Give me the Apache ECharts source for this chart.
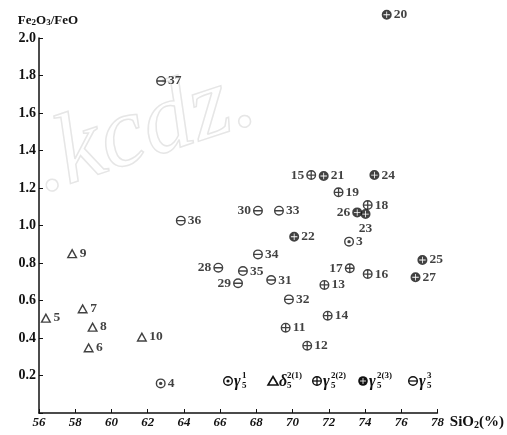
<!DOCTYPE html>
<html>
<head>
<meta charset="utf-8">
<script src="https://cdn.jsdelivr.net/npm/echarts@6/dist/echarts.min.js"></script>
<style>html,body{margin:0;padding:0;background:#fff}#c{width:507px;height:435px}</style>
</head>
<body>
<div id="c"></div>
<script>
// ---- data: [SiO2 %, Fe2O3/FeO, sample no.] ----
const gamma51 = [[73.12, 0.914, 3], [62.72, 0.158, 4]];
const delta521 = [[56.38, 0.508, 5], [58.74, 0.350, 6], [58.41, 0.558, 7], [58.96, 0.460, 8], [57.83, 0.852, 9], [61.68, 0.407, 10]];
const gamma522 = [[69.62, 0.455, 11], [70.81, 0.359, 12], [71.76, 0.683, 13], [71.94, 0.519, 14], [71.03, 1.269, 15], [74.15, 0.741, 16], [73.16, 0.772, 17], [74.15, 1.109, 18], [72.54, 1.177, 19]];
const gamma523 = [[75.20, 2.124, 20], [71.72, 1.264, 21], [70.09, 0.940, 22], [74.03, 1.061, 23], [74.52, 1.269, 24], [77.17, 0.816, 25], [73.57, 1.070, 26], [76.79, 0.724, 27]];
const gamma53 = [[65.90, 0.775, 28], [66.99, 0.692, 29], [68.09, 1.079, 30], [68.82, 0.709, 31], [69.80, 0.606, 32], [69.25, 1.079, 33], [68.09, 0.846, 34], [67.26, 0.757, 35], [63.83, 1.026, 36], [62.74, 1.771, 37]];
const xTicks = [56, 58, 60, 62, 64, 66, 68, 70, 72, 74, 76, 78];
const yTicks = [0.2, 0.4, 0.6, 0.8, 1.0, 1.2, 1.4, 1.6, 1.8, 2.0];
const legendNames = [['γ', '1', '5'], ['δ', '2(1)', '5'], ['γ', '2(2)', '5'], ['γ', '2(3)', '5'], ['γ', '3', '5']];

// ---- styling ----
const INK = '#111';
const FONT = '"Liberation Serif", "DejaVu Serif", serif';
const ring = 'M0,10 A10,10 0 1,1 20,10 A10,10 0 1,1 0,10 Z M2.8,10 A7.2,7.2 0 1,0 17.2,10 A7.2,7.2 0 1,0 2.8,10 Z ';
const disc = 'M0,10 A10,10 0 1,1 20,10 A10,10 0 1,1 0,10 Z ';
const P_DOT = ring + 'M6.6,10 A3.4,3.4 0 1,1 13.4,10 A3.4,3.4 0 1,1 6.6,10 Z';
const P_PLUS = ring + 'M8.7,2 L11.3,2 L11.3,8.7 L18,8.7 L18,11.3 L11.3,11.3 L11.3,18 L8.7,18 L8.7,11.3 L2,11.3 L2,8.7 L8.7,8.7 Z';
const P_DPLUS = disc + 'M9.2,3.5 L9.2,9.2 L3.5,9.2 L3.5,10.8 L9.2,10.8 L9.2,16.5 L10.8,16.5 L10.8,10.8 L16.5,10.8 L16.5,9.2 L10.8,9.2 L10.8,3.5 Z';
const P_MINUS = ring + 'M2,8.6 L18,8.6 L18,11.4 L2,11.4 Z';
const P_TRI = 'M10,0 L20,18 L0,18 Z M10,5.4 L4.3,15.6 L15.7,15.6 Z';

const leftLabel = [15, 17, 26, 28, 29, 30];
const bottomLabel = [23];

function items(arr) {
  return arr.map(d => {
    let pos = 'right';
    if (leftLabel.includes(d[2])) pos = 'left';
    if (bottomLabel.includes(d[2])) pos = 'bottom';
    return { value: d, label: { position: pos } };
  });
}

const groups = [
  { data: gamma51, sym: P_DOT, size: 10, kind: 'dot' },
  { data: delta521, sym: P_TRI, size: [11, 10], kind: 'tri' },
  { data: gamma522, sym: P_PLUS, size: 10, kind: 'plus' },
  { data: gamma523, sym: P_DPLUS, size: 10, kind: 'dplus' },
  { data: gamma53, sym: P_MINUS, size: 10, kind: 'minus' }
];

const series = groups.map((g, i) => ({
  type: 'scatter',
  name: 'g' + i,
  clip: false,
  symbol: 'path://' + g.sym,
  symbolSize: g.size,
  itemStyle: { color: INK },
  label: {
    show: true,
    formatter: p => String(p.value[2]),
    fontFamily: FONT, fontWeight: 'bold', fontSize: 13.5, color: INK, distance: 2
  },
  data: items(g.data)
}));

// legend row (drawn inside the plot like the original)
const legendX = [228, 273, 317, 363, 413];
const legendY = 381;
const graphics = [];
function legendIcon(kind, x, y) {
  const r = 4.3, lw = 1.4;
  const out = [];
  if (kind === 'tri') {
    out.push({ type: 'polygon', shape: { points: [[x, y - 4.5], [x + 5, y + 4], [x - 5, y + 4]] }, style: { fill: 'none', stroke: INK, lineWidth: 1.6 } });
    return out;
  }
  if (kind === 'dplus') {
    out.push({ type: 'circle', shape: { cx: x, cy: y, r: r + 0.5 }, style: { fill: INK } });
    out.push({ type: 'line', shape: { x1: x - 3, y1: y, x2: x + 3, y2: y }, style: { stroke: '#fff', lineWidth: 0.8 } });
    out.push({ type: 'line', shape: { x1: x, y1: y - 3, x2: x, y2: y + 3 }, style: { stroke: '#fff', lineWidth: 0.8 } });
    return out;
  }
  out.push({ type: 'circle', shape: { cx: x, cy: y, r: r }, style: { fill: 'none', stroke: INK, lineWidth: lw } });
  if (kind === 'dot') out.push({ type: 'circle', shape: { cx: x, cy: y, r: 1.6 }, style: { fill: INK } });
  if (kind === 'plus' || kind === 'minus') out.push({ type: 'line', shape: { x1: x - r, y1: y, x2: x + r, y2: y }, style: { stroke: INK, lineWidth: 1.3 } });
  if (kind === 'plus') out.push({ type: 'line', shape: { x1: x, y1: y - r, x2: x, y2: y + r }, style: { stroke: INK, lineWidth: 1.3 } });
  return out;
}
groups.forEach((g, i) => {
  const x = legendX[i];
  legendIcon(g.kind, x, legendY).forEach(e => graphics.push(e));
  const n = legendNames[i];
  graphics.push({ type: 'text', x: x + 6, y: legendY + 1, style: { text: n[0], font: 'italic bold 16px ' + FONT, fill: INK, verticalAlign: 'middle' } });
  graphics.push({ type: 'text', x: x + 14, y: legendY - 5, style: { text: n[1], font: 'bold 9px ' + FONT, fill: INK, verticalAlign: 'middle' } });
  graphics.push({ type: 'text', x: x + 14, y: legendY + 5, style: { text: n[2], font: 'bold 9px ' + FONT, fill: INK, verticalAlign: 'middle' } });
});
// faint watermark of the scanned source
graphics.push({ type: 'text', x: 20, y: 120, rotation: 0.32, z: -10, style: { text: '.kcdz.', font: 'italic 100px ' + FONT, fill: 'none', stroke: '#e6e6e6', lineWidth: 1.5 } });

const chart = echarts.init(document.getElementById('c'));
chart.setOption({
  animation: false,
  backgroundColor: '#fff',
  grid: { left: 39, right: 64, top: 38, bottom: 22, containLabel: false },
  xAxis: {
    type: 'value', min: xTicks[0], max: xTicks[xTicks.length - 1], interval: 2,
    name: 'SiO{s|2}(%)', nameLocation: 'end', nameGap: 7,
    nameTextStyle: { fontFamily: FONT, fontWeight: 'bold', fontSize: 15, color: INK, verticalAlign: 'top', padding: [1, 0, 0, 0],
      rich: { s: { fontFamily: FONT, fontWeight: 'bold', fontSize: 10, color: INK, padding: [6, 0, 0, 0] } } },
    splitLine: { show: false },
    axisLine: { lineStyle: { color: INK, width: 1.5 } },
    axisTick: { inside: true, length: 4, lineStyle: { color: INK } },
    axisLabel: { margin: 3, fontFamily: FONT, fontStyle: 'italic', fontWeight: 'bold', fontSize: 13, color: INK,
      formatter: v => xTicks.includes(v) ? String(v) : '' }
  },
  yAxis: {
    type: 'value', min: 0, max: yTicks[yTicks.length - 1], interval: 0.2,
    name: 'Fe{s|2}O{s|3}/FeO', nameLocation: 'end', nameGap: 11,
    nameTextStyle: { fontFamily: FONT, fontWeight: 'bold', fontSize: 13, color: INK, align: 'center', padding: [0, 0, 0, 18],
      rich: { s: { fontFamily: FONT, fontWeight: 'bold', fontSize: 9, color: INK, padding: [4, 0, 0, 0] } } },
    splitLine: { show: false },
    axisLine: { lineStyle: { color: INK, width: 1.5 } },
    axisTick: { inside: true, length: 4, lineStyle: { color: INK } },
    axisLabel: { margin: 3, fontFamily: FONT, fontWeight: 'bold', fontSize: 14, color: INK,
      formatter: v => { const t = yTicks.find(k => Math.abs(k - v) < 1e-6); return t === undefined ? '' : t.toFixed(1); } }
  },
  graphic: graphics,
  series: series
});
</script>
</body>
</html>
